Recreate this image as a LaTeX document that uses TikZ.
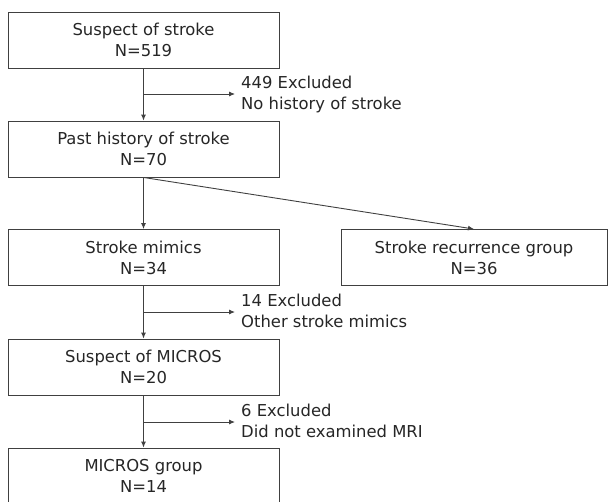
\documentclass[tikz,border=0pt]{standalone}
\usepackage{fontspec}
\setmainfont{DejaVu Sans}
\usepackage{xcolor}
\usetikzlibrary{arrows.meta,positioning}
\definecolor{linegray}{HTML}{404040}
\definecolor{textgray}{HTML}{262626}
\tikzset{
  stagebox/.style={draw=linegray,text=textgray,align=center,minimum width=271pt,minimum height=56pt,inner sep=0pt,line width=0.9pt},
  sidenote/.style={text=textgray,align=left,anchor=west,inner sep=0pt},
  flow/.style={linegray,line width=0.9pt,-{Latex[length=6pt,width=5pt]}}
}

\begin{document}
\begin{tikzpicture}[x=1pt,y=-1pt,font=\fontsize{16.4}{21}\selectfont]
\useasboundingbox (0,0) rectangle (608,501);
\node[stagebox] (suspect) at (143.5,40) {Suspect of stroke\\N=519};
\node[stagebox] (history) at (143.5,149) {Past history of stroke\\N=70};
\node[stagebox] (mimics) at (143.5,257.5) {Stroke mimics\\N=34};
\node[stagebox,minimum width=266pt] (recur) at (474,257.5) {Stroke recurrence group\\N=36};
\node[stagebox] (micros) at (143.5,367) {Suspect of MICROS\\N=20};
\node[stagebox] (group) at (143.5,476) {MICROS group\\N=14};
% exclusions
\coordinate (cutA) at (143.5,94);
\coordinate (cutAend) at (235,94);
\node[sidenote] (noteA) at (241,94) {449 Excluded\\No history of stroke};
\coordinate (cutB) at (143.5,312);
\coordinate (cutBend) at (235,312);
\node[sidenote] (noteB) at (241,311) {14 Excluded\\Other stroke mimics};
\coordinate (cutC) at (143.5,422);
\coordinate (cutCend) at (235,422);
\node[sidenote] (noteC) at (241,421) {6 Excluded\\Did not examined MRI};
\draw[flow] (suspect) -- (history);
\draw[flow] (history) -- (mimics);
\draw[flow] (history.south) -- (recur.north);
\draw[flow] (mimics) -- (micros);
\draw[flow] (micros) -- (group);
\draw[flow] (cutA) -- (cutAend);
\draw[flow] (cutB) -- (cutBend);
\draw[flow] (cutC) -- (cutCend);
\end{tikzpicture}
\end{document}
